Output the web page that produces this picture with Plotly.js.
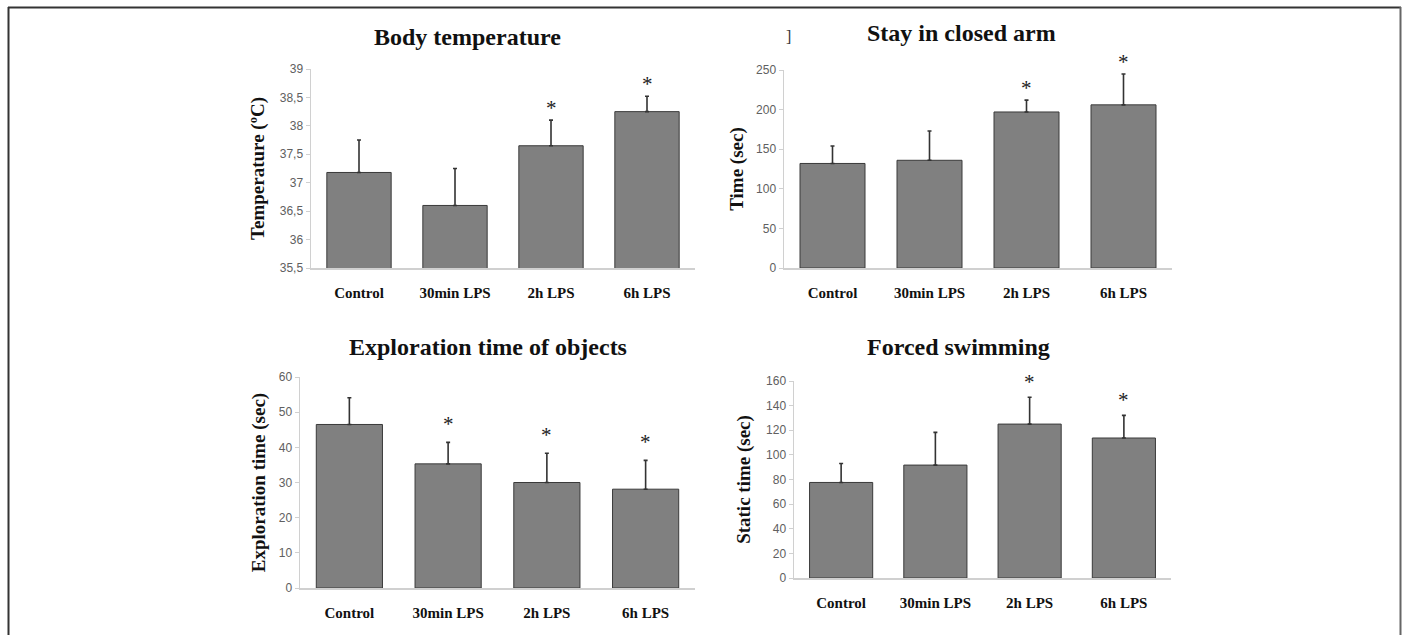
<!DOCTYPE html>
<html>
<head>
<meta charset="utf-8">
<script src="https://cdn.plot.ly/plotly-3.0.1.min.js"></script>
<style>html,body{margin:0;padding:0;background:#fff;}#chart{width:1406px;height:635px;}</style>
</head>
<body>
<div id="chart"></div>
<script>
// ---- data ----
const categories = ['Control', '30min LPS', '2h LPS', '6h LPS'];

const tempMean = [37.18, 36.6, 37.65, 38.25];
const tempErr  = [0.57, 0.65, 0.45, 0.27];
const tempSig  = [false, false, true, true];
const tempTickVals = [35.5, 36, 36.5, 37, 37.5, 38, 38.5, 39];
const tempTickText = ['35,5', '36', '36,5', '37', '37,5', '38', '38,5', '39'];

const closedMean = [132, 136, 197, 206];
const closedErr  = [22, 37, 15, 39];
const closedSig  = [false, false, true, true];

const explMean = [46.5, 35.3, 30.0, 28.1];
const explErr  = [7.6, 6.1, 8.3, 8.2];
const explSig  = [false, true, true, true];

const swimMean = [77.6, 91.7, 125, 113.7];
const swimErr  = [15.4, 26.6, 21.8, 18.4];
const swimSig  = [false, false, true, true];

const titles = ['Body temperature', 'Stay in closed arm', 'Exploration time of objects', 'Forced swimming'];
const yTitles = ['Temperature (ºC)', 'Time (sec)', 'Exploration time (sec)', 'Static time (sec)'];

// ---- layout helpers ----
const W = 1406, H = 635;
const px = v => v / W;
const py = v => 1 - v / H;
const SERIF = 'Liberation Serif, Times New Roman, serif';
const SANS = 'Liberation Sans, Arial, sans-serif';

const panels = [
  {mean: tempMean, err: tempErr, sig: tempSig, box: [311, 695, 69, 268], range: [35.5, 39],
   tickvals: tempTickVals, ticktext: tempTickText, tpos: [467, 37], star: 12, standoff: 10},
  {mean: closedMean, err: closedErr, sig: closedSig, box: [784, 1172, 70, 268], range: [0, 250],
   dtick: 50, tpos: [961, 33], star: 12, standoff: 7},
  {mean: explMean, err: explErr, sig: explSig, box: [300, 695, 377, 588], range: [0, 60],
   dtick: 10, tpos: [488, 347], star: 18, standoff: 8},
  {mean: swimMean, err: swimErr, sig: swimSig, box: [794, 1171, 381, 578], range: [0, 160],
   dtick: 20, tpos: [958, 347], star: 15, standoff: 10}
];

const traces = [];
const layout = {
  width: W, height: H,
  margin: {l: 0, r: 0, t: 0, b: 0},
  paper_bgcolor: '#fff', plot_bgcolor: 'rgba(0,0,0,0)',
  showlegend: false,
  annotations: [],
  shapes: [
    {type: 'line', xref: 'paper', yref: 'paper', x0: px(8), x1: px(1401), y0: py(7.5), y1: py(7.5), line: {color: '#333', width: 2}},
    {type: 'line', xref: 'paper', yref: 'paper', x0: px(8.5), x1: px(8.5), y0: py(7), y1: py(640), line: {color: '#333', width: 2}},
    {type: 'line', xref: 'paper', yref: 'paper', x0: px(1400.5), x1: px(1400.5), y0: py(7), y1: py(640), line: {color: '#666', width: 2}}
  ]
};

panels.forEach((p, i) => {
  const n = i === 0 ? '' : String(i + 1);
  const xa = 'x' + n, ya = 'y' + n;
  traces.push({
    type: 'bar', x: categories, y: p.mean, xaxis: xa, yaxis: ya,
    width: 0.67,
    marker: {color: '#808080', line: {color: '#3a3a3a', width: 1}},
    error_y: {type: 'data', symmetric: false, array: p.err, arrayminus: p.err.map(() => 0),
              color: '#333', thickness: 1.6, width: 2},
    hoverinfo: 'x+y'
  });
  const [x0, x1, y0, y1] = p.box;
  layout['xaxis' + n] = {
    domain: [px(x0), px(x1)], anchor: ya,
    type: 'category', range: [-0.5, 3.5],
    showline: true, linecolor: '#d0d0d0', linewidth: 1.5,
    ticks: '', showgrid: false, zeroline: false,
    ticklabelstandoff: 10,
    tickfont: {family: SERIF, size: 15, color: '#111', weight: 'bold'}
  };
  const yax = {
    domain: [py(y1), py(y0)], anchor: xa,
    range: p.range, autorange: false,
    showline: true, linecolor: '#d0d0d0', linewidth: 1.5,
    ticks: 'outside', ticklen: 4, tickcolor: '#d0d0d0',
    showgrid: false, zeroline: false,
    tickfont: {family: SANS, size: 12, color: '#606060'},
    title: {text: '<b>' + yTitles[i] + '</b>', standoff: p.standoff,
            font: {family: SERIF, size: 19, color: '#111'}}
  };
  if (p.tickvals) { yax.tickmode = 'array'; yax.tickvals = p.tickvals; yax.ticktext = p.ticktext; }
  else { yax.tick0 = 0; yax.dtick = p.dtick; }
  layout['yaxis' + n] = yax;

  layout.annotations.push({
    xref: 'paper', yref: 'paper', x: px(p.tpos[0]), y: py(p.tpos[1]),
    xanchor: 'center', yanchor: 'middle', showarrow: false,
    text: '<b>' + titles[i] + '</b>', font: {family: SERIF, size: 24, color: '#111'}
  });
  p.sig.forEach((s, k) => {
    if (!s) return;
    layout.annotations.push({
      xref: xa, yref: ya, x: categories[k], y: p.mean[k] + p.err[k],
      xanchor: 'center', yanchor: 'middle', yshift: p.star, showarrow: false,
      text: '*', font: {family: SERIF, size: 21, color: '#222'}
    });
  });
});

// stray bracket mark in the reference
layout.annotations.push({
  xref: 'paper', yref: 'paper', x: px(788), y: py(37), xanchor: 'center', yanchor: 'middle',
  showarrow: false, text: ']', font: {family: SERIF, size: 16, color: '#333'}
});

Plotly.newPlot('chart', traces, layout, {displayModeBar: false, staticPlot: true});
</script>
</body>
</html>
